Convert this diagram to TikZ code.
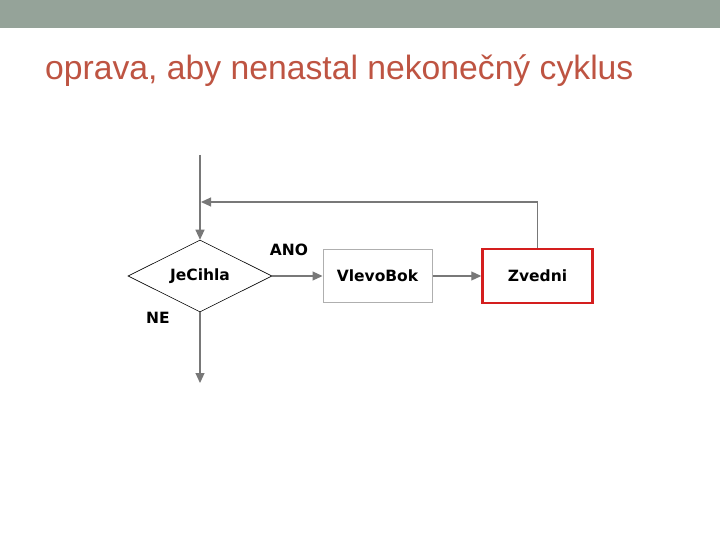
\documentclass[tikz,border=0pt]{standalone}
\usepackage{fontspec}
\setmainfont{Liberation Sans}
\newfontfamily\labelfont{DejaVu Sans}
\usetikzlibrary{shapes.geometric,arrows.meta}
\definecolor{topbar}{RGB}{149,163,153}
\definecolor{titlered}{RGB}{190,84,66}
\definecolor{flowgray}{RGB}{120,120,120}
\definecolor{boxgray}{RGB}{175,175,175}
\definecolor{hilite}{RGB}{212,30,30}
\tikzset{
  flow/.style={draw=flowgray, line width=1.1pt, -{Triangle[length=10pt,width=9pt]}},
  lbl/.style={font=\labelfont\bfseries\fontsize{15.5}{18}\selectfont},
  plainbox/.style={lbl, draw=boxgray, line width=1pt, minimum width=109pt, minimum height=53pt},
}

\begin{document}
\begin{tikzpicture}[x=1pt, y=-1pt]
  % Page and header bar
  \useasboundingbox (0, 0) rectangle (720, 540);
  \fill[white] (0, 0) rectangle (720, 540);
  \fill[topbar] (0, 0) rectangle (720, 28);

  % Title
  \node[anchor=base west, inner sep=0, text=titlered, font=\fontsize{33.7}{38}\selectfont] (title) at (45, 80) {oprava, aby nenastal nekonečný cyklus};

  % Flowchart nodes
  \node[lbl, diamond, draw, line width=0.6pt, aspect=2, inner sep=0, minimum width=144pt, minimum height=72pt] (jecihla) at (200, 276) {JeCihla};
  \node[plainbox] (vlevobok) at (377.5, 276) {VlevoBok};
  \node[plainbox, draw=hilite, line width=2.5pt, minimum width=110pt, minimum height=54pt] (zvedni) at (537.5, 276) {Zvedni};

  % Free ends
  \coordinate (start) at (200, 155);
  \coordinate (join) at (201, 202);
  \coordinate (end) at (200, 383);

  % Connectors
  \draw[flow] (start) -- (jecihla.north);
  \draw[flow] (jecihla.east) -- (vlevobok.west);
  \draw[flow] (vlevobok.east) -- (zvedni.west);
  \draw[flow] (zvedni.north) |- (join);
  \draw[flow] (jecihla.south) -- (end);

  % Branch labels
  \node[lbl] (ano) at (289, 250) {ANO};
  \node[lbl] (ne) at (158, 318) {NE};
\end{tikzpicture}
\end{document}
